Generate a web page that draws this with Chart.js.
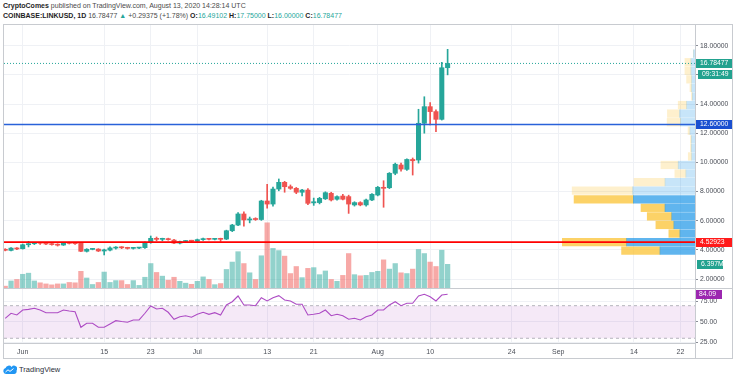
<!DOCTYPE html>
<html><head><meta charset="utf-8">
<script src="https://cdn.jsdelivr.net/npm/chart.js@4.4.1/dist/chart.umd.min.js"></script>
<style>
html,body{margin:0;padding:0;background:#fff;}
body{width:736px;height:380px;position:relative;overflow:hidden;font-family:"Liberation Sans",Arial,sans-serif;}
.hd{position:absolute;left:3px;font-size:7px;line-height:9px;color:#4a4a4a;white-space:nowrap;}
.hd b{color:#1e1e1e;}
.g{color:#26a69a;}
.ln{position:absolute;background:#c8cbd0;}
canvas{position:absolute;left:0;}
#logo{position:absolute;left:3px;top:365px;height:10px;font-size:7.5px;line-height:10px;color:#2a2e39;white-space:nowrap;}
#logo svg{vertical-align:top;margin-right:2px;}
</style></head><body>
<div class="hd" style="top:1px"><b>CryptoComes</b> published on TradingView.com, August 13, 2020 14:28:14 UTC</div>
<div class="hd" style="top:11px"><b>COINBASE:LINKUSD, 1D</b> 16.78477 <span class="g">▲</span> +0.29375 (+1.78%) <b>O:</b><span class="g">16.49102</span> <b>H:</b><span class="g">17.75000</span> <b>L:</b><span class="g">16.00000</span> <b>C:</b><span class="g">16.78477</span></div>
<canvas id="main" width="736" height="263" style="top:25px"></canvas>
<canvas id="rsi" width="736" height="72" style="top:288px"></canvas>
<div class="ln" style="left:3px;top:24px;width:730px;height:1px"></div>
<div class="ln" style="left:3px;top:358px;width:730px;height:1px"></div>
<div class="ln" style="left:3px;top:24px;width:1px;height:335px"></div>
<div class="ln" style="left:732px;top:24px;width:1px;height:335px"></div>
<div class="ln" style="left:3px;top:288px;width:730px;height:1px"></div>
<div class="ln" style="left:3px;top:343px;width:693px;height:1px"></div>
<div class="ln" style="left:695px;top:24px;width:1px;height:335px"></div>
<div id="logo"><svg width="14" height="9" viewBox="0 0 14 9"><path d="M3 9 A3 3 0 0 1 2.6 3.1 A3.4 3.4 0 0 1 8.6 2 A3 3 0 0 1 13.5 5.6 A2.6 2.6 0 0 1 11 9 Z" fill="#2196f3"/><path d="M2.5 7 L5 4.8 L7 6.4 L10.5 3.6" stroke="#fff" stroke-width="1" fill="none"/></svg>TradingView</div>
<script>
// ---------------- data ----------------
const dates = ['2020-05-29','2020-05-30','2020-05-31',
'2020-06-01','2020-06-02','2020-06-03','2020-06-04','2020-06-05','2020-06-06','2020-06-07','2020-06-08','2020-06-09','2020-06-10',
'2020-06-11','2020-06-12','2020-06-13','2020-06-14','2020-06-15','2020-06-16','2020-06-17','2020-06-18','2020-06-19','2020-06-20',
'2020-06-21','2020-06-22','2020-06-23','2020-06-24','2020-06-25','2020-06-26','2020-06-27','2020-06-28','2020-06-29','2020-06-30',
'2020-07-01','2020-07-02','2020-07-03','2020-07-04','2020-07-05','2020-07-06','2020-07-07','2020-07-08','2020-07-09','2020-07-10',
'2020-07-11','2020-07-12','2020-07-13','2020-07-14','2020-07-15','2020-07-16','2020-07-17','2020-07-18','2020-07-19','2020-07-20',
'2020-07-21','2020-07-22','2020-07-23','2020-07-24','2020-07-25','2020-07-26','2020-07-27','2020-07-28','2020-07-29','2020-07-30','2020-07-31',
'2020-08-01','2020-08-02','2020-08-03','2020-08-04','2020-08-05','2020-08-06','2020-08-07','2020-08-08','2020-08-09','2020-08-10',
'2020-08-11','2020-08-12','2020-08-13'];
const open  = [4.02,3.96,4.12, 4.08,4.35,4.42,4.49,4.48,4.42,4.38,4.33,4.47,4.47, 4.47,3.90,4.03,4.05,3.92,3.98,4.12,4.18,4.14,4.10, 4.12,4.15,4.50,4.79,4.72,4.76,4.67,4.46,4.57,4.62,
 4.59,4.70,4.75,4.72,4.76,4.74,5.31,5.70,6.46,6.05, 6.12,6.08,7.35,7.14,8.17,8.63,8.33,8.22,7.95,8.10, 7.22,7.24,7.50,7.88,7.47,7.69,7.65,7.08,7.24,7.08,7.42,
 7.76,8.29,8.26,9.25,9.82,9.52,10.20,10.16,12.68,13.82, 13.48,12.95,16.49102];
const high  = [4.08,4.16,4.16, 4.40,4.58,4.50,4.52,4.52,4.47,4.42,4.50,4.53,4.52, 4.50,4.08,4.10,4.08,4.05,4.20,4.22,4.22,4.18,4.16, 4.18,4.55,4.95,4.88,4.80,4.80,4.72,4.60,4.64,4.66,
 4.74,4.80,4.78,4.78,4.80,5.35,5.75,6.55,6.60,6.25, 6.20,7.40,8.50,8.30,8.86,8.70,8.45,8.28,8.15,8.20, 7.55,7.60,7.98,7.95,7.70,7.80,7.75,7.30,7.30,7.48,7.85,
 8.35,8.74,9.30,9.95,9.95,10.25,10.30,13.64,14.50,14.10, 13.60,16.86,17.75];
const low   = [3.93,3.92,4.02, 4.05,4.20,4.36,4.38,4.36,4.32,4.26,4.30,4.40,4.38, 3.88,3.85,4.00,3.88,3.65,3.92,4.05,4.08,4.05,4.05, 4.08,4.10,4.45,4.62,4.62,4.66,4.42,4.40,4.52,4.55,
 4.56,4.65,4.68,4.68,4.58,4.70,5.25,5.65,5.63,5.85, 6.02,6.02,6.85,7.00,8.05,7.95,8.15,7.85,7.70,7.10, 7.05,7.15,7.45,7.35,7.40,7.42,6.50,7.00,7.02,7.00,7.38,
 7.70,6.92,8.20,9.15,9.40,9.45,9.13,9.95,12.00,12.56, 12.10,12.90,16.00];
const close = [3.97,4.12,4.06, 4.35,4.42,4.47,4.45,4.40,4.36,4.32,4.47,4.44,4.42, 3.90,4.04,4.06,3.92,4.00,4.13,4.18,4.14,4.10,4.13, 4.15,4.50,4.79,4.72,4.76,4.70,4.46,4.57,4.61,4.59,
 4.70,4.74,4.72,4.75,4.72,5.31,5.70,6.46,6.05,6.12, 6.08,7.35,7.14,8.17,8.63,8.33,8.22,7.95,8.10,7.19, 7.30,7.53,7.92,7.42,7.65,7.47,7.14,7.24,7.08,7.42,7.81,
 8.29,8.22,9.25,9.87,9.54,10.20,10.11,12.68,13.82,13.48, 12.95,16.49,16.78477];
const volumeM = [0.5,1.9,2.3, 3.7,4.0,1.9,1.4,1.1,0.85,1.1,1.1,1.5,1.4, 4.5,2.7,0.95,1.5,4.3,1.5,2.0,2.0,0.95,2.0, 0.7,2.9,6.6,4.2,3.2,2.1,2.9,1.8,1.3,1.0,
 1.8,3.0,2.3,0.9,1.2,5.0,7.0,9.8,6.6,4.1, 2.3,8.7,17.6,10.7,10.1,8.6,3.9,5.8,2.8,5.3, 5.5,3.6,4.6,2.3,1.8,3.4,9.3,3.6,3.3,3.4,4.2,
 4.5,7.6,5.1,6.6,4.1,3.9,5.1,10.4,9.3,7.0, 5.8,10.2,6.397];
const rsi = [54.5,60.7,58.6, 64.7,65.5,66.8,64.7,61.4,61.4,61.4,64.7,63.5,62.6, 43.5,48.4,48.4,43.5,43.5,47.5,51.6,50.5,49.6,52.5,
 52.5,60.7,69.6,66,66.8,61.9,53.3,56.5,57.7,55.8, 59.4,61.9,59.4,61.4,58.6,70.9,74.9,81.9,70.9,70.9,
 70,79.8,75.8,79.8,82.3,77,75.8,71.7,71.7,58.6, 59.4,60.7,64.7,57.7,59.4,57.7,53.3,54.5,52.5,56.5,58.6,
 64.7,64.7,70.9,74.9,70,72.9,72.9,81.9,84,81,75.8,83.1,84.09];
// visible-range volume profile (rows by price, up / down volume in M)
const vpPrice = [3.944,4.531,5.119,5.706,6.294,6.881,7.469,8.056,8.644,9.231,9.819,10.406,10.994,11.581,12.169,12.756,13.344,13.931,14.519,15.106,15.694,16.281,16.869,17.456];
const vpUp    = [14.6,28.5,6.3,8.8,9.7,12.5,25.7,26.0,12.5,3.8,7.0,1.4,1.5,1.5,2.1,6.0,6.5,3.5,1.1,1.4,1.4,1.7,1.7,0.7];
const vpDown  = [16.0,26.8,4.6,7.5,10.2,10.0,24.7,25.2,12.9,4.6,7.2,1.4,0.4,0.4,0.8,5.6,5.0,3.5,0.4,0.7,2.1,2.5,2.5,0];
const valueArea = [3.65, 7.7625];
const levels = [4.52923, 12.6];
const levelText = ['4.52923','12.60000'];
const lastPriceText = '16.78477', countdownText = '09:31:49', lastVolText = '6.397M', lastRsiText = '84.09';
const priceTicks = [2,4,6,8,10,12,14,16,18];
const priceTickLabels = ['2.00000','4.00000','6.00000','8.00000','10.00000','12.00000','14.00000','','18.00000'];
const rsiTicks = [25,50,75];
const rsiBands = [70,30];
const tickDates = ['2020-06-01','2020-06-15','2020-06-23','2020-07-01','2020-07-13','2020-07-21','2020-08-01','2020-08-10','2020-08-24','2020-09-01','2020-09-14','2020-09-22'];
const tickLabels = ['Jun','15','23','Jul','13','21','Aug','10','24','Sep','14','22'];

// ---------------- helpers / styles ----------------
const FONT = '"Liberation Sans", Arial, sans-serif';
Chart.defaults.font.family = FONT;
const UP = '#26a69a', DN = '#ef5350';
const dayIdx = s => { const [y,m,d] = s.split('-').map(Number); return (Date.UTC(y,m-1,d) - Date.UTC(2020,5,1)) / 864e5; };
const xs = dates.map(dayIdx);
const isUp = close.map((c,i) => c >= open[i]);
const cCol = isUp.map(u => u ? UP : DN);
const vCol = isUp.map(u => u ? 'rgba(38,166,154,0.5)' : 'rgba(239,83,80,0.5)');
const inVA = vpPrice.map(p => p > valueArea[0] && p < valueArea[1]);
const X_MIN = -3.21, X_MAX = 115.5;
const P_MIN = 1.383, P_MAX = 19.42;
const GRID = '#eff1f5';
const tickVals = tickDates.map(dayIdx);
const zeroPad = s => { s.paddingTop = 0; s.paddingBottom = 0; s.paddingLeft = 0; s.paddingRight = 0; };
const lastClose = close[close.length-1];

const labelsPlugin = {
  id: 'axisLabels',
  afterDraw(chart) {
    const ctx = chart.ctx, ca = chart.chartArea, y = chart.scales.y;
    ctx.save();
    ctx.font = '6.8px ' + FONT;
    ctx.textBaseline = 'middle';
    const box = (py, text, bg, x0, w) => {
      ctx.fillStyle = bg; ctx.fillRect(x0, Math.round(py) - 4, w, 9);
      ctx.fillStyle = '#fff'; ctx.fillText(text, x0 + 4, Math.round(py) + 0.5);
    };
    const pl = y.getPixelForValue(lastClose);
    box(pl, lastPriceText, '#22a28f', ca.right + 1, 37);
    box(pl + 10.4, countdownText, '#22a28f', ca.right + 3, 35);
    box(y.getPixelForValue(levels[1]), levelText[1], '#1a4fd0', ca.right + 1, 37);
    box(y.getPixelForValue(levels[0]), levelText[0], '#ff1a1a', ca.right + 1, 37);
    box(chart.scales.vol.getPixelForValue(volumeM[volumeM.length-1]), lastVolText, '#22a28f', ca.right + 2, 26);
    ctx.restore();
  }
};

new Chart(document.getElementById('main'), {
  type: 'bar',
  data: { datasets: [
    { type:'bar', xAxisID:'x', yAxisID:'vol', data: xs.map((x,i)=>({x, y: volumeM[i]})), backgroundColor: vCol, barThickness: 4.6, grouped:false, order: 10 },
    { type:'bar', indexAxis:'y', xAxisID:'vp', yAxisID:'y', data: vpPrice.map((p,i)=>({x:[0, vpUp[i]], y:p})),
      backgroundColor: inVA.map(v => v ? 'rgba(21,146,230,0.68)' : 'rgba(21,146,230,0.24)'), barThickness: 7.6, grouped:false, order: 8 },
    { type:'bar', indexAxis:'y', xAxisID:'vp', yAxisID:'y', data: vpPrice.map((p,i)=>({x:[vpUp[i], vpUp[i]+vpDown[i]], y:p})),
      backgroundColor: inVA.map(v => v ? 'rgba(251,192,45,0.72)' : 'rgba(251,192,45,0.24)'), barThickness: 7.6, grouped:false, order: 8 },
    { type:'bar', xAxisID:'x', yAxisID:'y', data: xs.map((x,i)=>({x, y:[low[i], high[i]]})), backgroundColor: cCol, barThickness: 1, grouped:false, order: 6 },
    { type:'bar', xAxisID:'x', yAxisID:'y', data: xs.map((x,i)=>({x, y:[open[i], close[i]]})), backgroundColor: cCol, barThickness: 4.4, minBarLength: 1, grouped:false, order: 5 },
    { type:'line', xAxisID:'x', yAxisID:'y', data: [{x:X_MIN, y:lastClose},{x:X_MAX, y:lastClose}], borderColor: UP, borderWidth: 1, borderDash:[1,2], pointRadius:0, order: 3 },
    { type:'line', xAxisID:'x', yAxisID:'y', data: [{x:X_MIN, y:levels[1]},{x:X_MAX, y:levels[1]}], borderColor: '#2962d9', borderWidth: 1.6, pointRadius:0, order: 2 },
    { type:'line', xAxisID:'x', yAxisID:'y', data: [{x:X_MIN, y:levels[0]},{x:X_MAX, y:levels[0]}], borderColor: '#ff0000', borderWidth: 1.8, pointRadius:0, order: 1 }
  ]},
  options: {
    responsive:false, animation:false, events:[],
    layout: { padding: { left: 4, top: 0, right: 0, bottom: 0 }, autoPadding:false },
    plugins: { legend:{display:false}, tooltip:{enabled:false} },
    scales: {
      x: { type:'linear', position:'bottom', min:X_MIN, max:X_MAX, offset:false,
           ticks:{display:false}, grid:{color:GRID, drawTicks:false, offset:false}, border:{display:false},
           afterBuildTicks: s => { s.ticks = tickVals.map(v => ({value:v})); },
           afterFit: s => { s.height = 0; zeroPad(s); } },
      y: { type:'linear', position:'right', min:P_MIN, max:P_MAX, offset:false,
           afterBuildTicks: s => { s.ticks = priceTicks.map(v => ({value:v})); },
           ticks:{ color:'#4a4e57', font:{size:6.8}, padding:2, autoSkip:false,
                   callback: (v, i) => priceTickLabels[i] },
           grid:{ color:GRID, tickColor:'#8a8e98', tickLength:3, offset:false }, border:{display:false},
           afterFit: s => { s.width = 41; zeroPad(s); } },
      vol: { axis:'y', type:'linear', position:'left', display:false, offset:false, min:0, max:71 },
      vp:  { axis:'x', type:'linear', position:'bottom', display:false, offset:false, reverse:true, min:0, max:288 }
    }
  },
  plugins: [labelsPlugin]
});

const rsiLabelPlugin = {
  id: 'rsiLabel',
  afterDraw(chart) {
    const ctx = chart.ctx, ca = chart.chartArea, y = chart.scales.y;
    ctx.save();
    ctx.fillStyle = '#fff';
    ctx.fillRect(ca.right + 1, ca.bottom + 1, chart.width - ca.right, chart.height - ca.bottom);
    const py = Math.round(y.getPixelForValue(rsi[rsi.length-1]));
    ctx.fillStyle = '#9c27b0'; ctx.fillRect(ca.right, py - 4, 27, 9);
    ctx.font = '6.8px ' + FONT; ctx.textBaseline = 'middle'; ctx.fillStyle = '#fff';
    ctx.fillText(lastRsiText, ca.right + 4, py + 0.5);
    ctx.restore();
  }
};

new Chart(document.getElementById('rsi'), {
  type: 'line',
  data: { datasets: [
    { data: [{x:X_MIN, y:rsiBands[0]},{x:X_MAX, y:rsiBands[0]}], borderColor:'rgba(120,123,134,0.55)', borderWidth:1, borderDash:[3,3], pointRadius:0,
      fill: { value: rsiBands[1] }, backgroundColor: 'rgba(155,39,176,0.1)', order: 3 },
    { data: [{x:X_MIN, y:rsiBands[1]},{x:X_MAX, y:rsiBands[1]}], borderColor:'rgba(120,123,134,0.55)', borderWidth:1, borderDash:[3,3], pointRadius:0, fill:false, order: 2 },
    { data: xs.map((x,i)=>({x, y:rsi[i]})), borderColor:'#ad4cc4', borderWidth:1.1, pointRadius:0, fill:false, tension:0, order: 1 }
  ]},
  options: {
    responsive:false, animation:false, events:[],
    layout: { padding: { left: 4, top: 0, right: 0, bottom: 0 }, autoPadding:false },
    plugins: { legend:{display:false}, tooltip:{enabled:false} },
    scales: {
      x: { type:'linear', min:X_MIN, max:X_MAX, offset:false,
           afterBuildTicks: s => { s.ticks = tickVals.map(v => ({value:v})); },
           ticks:{ color:'#4a4e57', font:{size:7}, padding:4.5, autoSkip:false, maxRotation:0,
                   callback: (v, i) => tickLabels[i] },
           grid:{ color:GRID, drawTicks:false }, border:{display:false},
           afterFit: s => { s.height = 17; zeroPad(s); } },
      y: { type:'linear', position:'right', min:24.2, max:91.7, offset:false,
           afterBuildTicks: s => { s.ticks = rsiTicks.map(v => ({value:v})); },
           ticks:{ color:'#4a4e57', font:{size:6.8}, padding:2, autoSkip:false, callback: v => v.toFixed(2) },
           grid:{ color:GRID, tickColor:'#8a8e98', tickLength:3 }, border:{display:false},
           afterFit: s => { s.width = 41; zeroPad(s); } }
    }
  },
  plugins: [rsiLabelPlugin]
});
</script>
</body></html>
